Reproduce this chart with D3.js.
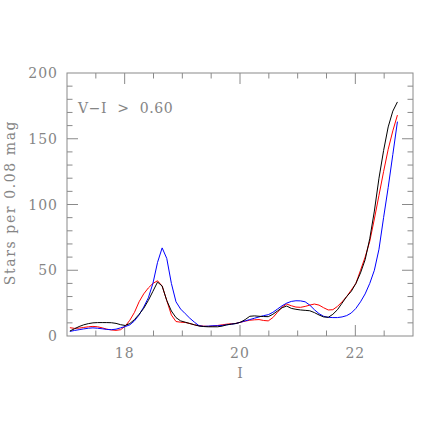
<!DOCTYPE html>
<html>
<head>
<meta charset="utf-8">
<script src="https://cdn.jsdelivr.net/npm/d3@7"></script>
<style>
  body { margin: 0; background: #fff; }
  text { font-family: "DejaVu Serif", serif; fill: #858585; }
</style>
</head>
<body>
<div class="chart"></div>
<script>
/* Luminosity function panel: star counts per 0.08 mag bin vs I */

// bin centres, 0.08 mag apart
var mag = d3.range(72).map(function (k) { return +(17.05 + 0.08 * k).toFixed(2); });

var blackCounts = [3.8, 5.5, 7.2, 8.5, 9.4, 10.0, 10.2, 10.2, 10.2, 10.1, 9.6, 8.6,
  8.0, 9.5, 12.5, 16.5, 21, 27, 34, 41, 38, 27, 19, 14,
  11.5, 10.5, 9.5, 8.5, 7.6, 7.2, 7.0, 7.0, 7.0, 7.5, 8.5, 9.0,
  9.5, 10.5, 12.5, 15, 15.3, 15, 14.8, 14.7, 16.5, 19, 21.5, 22.8,
  21, 20.3, 19.8, 19.5, 19.2, 17.8, 16, 14.5, 14.2, 16.5, 20, 25,
  30, 34, 40, 48, 58, 74, 95, 120, 141, 159, 171, 178];

var redCounts = [6.3, 5.8, 6.0, 6.5, 7.0, 7.3, 7.0, 6.2, 5.2, 4.6, 4.3, 4.8,
  7.5, 12, 18, 26, 32, 36.5, 40, 42, 38, 27, 16, 11,
  10.5, 10.3, 9.5, 8.5, 7.8, 7.5, 7.3, 7.5, 8, 8.5, 9, 9.3,
  9.6, 10.5, 11.3, 12, 12.3, 12.5, 11.8, 11.5, 14, 18, 22, 24.3,
  23, 22, 21.8, 22.5, 23.5, 24.3, 23.5, 21.5, 19.8, 20, 22.5, 26,
  30, 35, 40, 50, 60, 72, 89, 107, 125, 142, 156, 168];

var blueCounts = [3.5, 4.2, 4.8, 5.4, 5.9, 6.2, 5.9, 5.5, 5.0, 4.8, 5.2, 6.2,
  7.2, 8.5, 11.5, 16, 22, 29, 40, 56, 67, 59, 40, 26,
  20.5, 17, 13.5, 10.5, 7.8, 7.3, 7.5, 7.8, 7.8, 8, 8.5, 9,
  9.5, 10.5, 11.5, 12.5, 13.5, 14.5, 15.5, 16.2, 18, 20.5, 23, 25,
  26.3, 26.8, 26.7, 26, 23.5, 20, 17, 15, 14.2, 14, 14, 14.5,
  15.5, 17.5, 21, 26, 32, 40, 50, 66, 90, 113, 138, 163];

var xTicks = [18, 20, 22];
var yTicks = [0, 50, 100, 150, 200];
var panelLabel = "V\u2212I  >  0.60";

drawChart();

function drawChart() {

  var width = 436, height = 436;
  var margin = {top: 73, right: 23, bottom: 100, left: 67};
  var w = width - margin.left - margin.right,
      h = height - margin.top - margin.bottom;
  var axisColor = "#8a8a8a";

  var svg = d3.select(".chart")
      .append("svg")
      .attr("width", width)
      .attr("height", height)
      .append("g")
      .attr("transform", "translate(" + margin.left + "," + margin.top + ")");

  var x = d3.scaleLinear().domain([17, 23]).range([0, w]);
  var y = d3.scaleLinear().domain([0, 200]).range([h, 0]);

  // frame
  svg.append("rect")
    .attr("width", w).attr("height", h)
    .attr("fill", "none")
    .attr("stroke", axisColor);

  // ticks, drawn inward on all four sides
  var xMinor = d3.range(17.5, 23, 0.5);
  var yMinor = d3.range(10, 200, 10);

  function tickLen(isMajor) { return isMajor ? 11 : 5.5; }

  var ticks = svg.append("g").attr("stroke", axisColor);

  xMinor.forEach(function (v) {
    var major = Math.abs(v - Math.round(v)) < 1e-6 && Math.round(v) % 2 === 0;
    var L = tickLen(major);
    ticks.append("line").attr("x1", x(v)).attr("x2", x(v)).attr("y1", h).attr("y2", h - L);
    ticks.append("line").attr("x1", x(v)).attr("x2", x(v)).attr("y1", 0).attr("y2", L);
  });

  yMinor.forEach(function (v) {
    var L = tickLen(v % 50 === 0);
    ticks.append("line").attr("y1", y(v)).attr("y2", y(v)).attr("x1", 0).attr("x2", L);
    ticks.append("line").attr("y1", y(v)).attr("y2", y(v)).attr("x1", w).attr("x2", w - L);
  });

  // tick labels
  svg.append("g").selectAll("text")
    .data(xTicks)
    .enter()
    .append("text")
    .attr("x", function (d) { return x(d); })
    .attr("y", h + 22)
    .attr("text-anchor", "middle")
    .style("font-size", "14px")
    .style("letter-spacing", "1px")
    .text(function (d) { return d; });

  svg.append("g").selectAll("text")
    .data(yTicks)
    .enter()
    .append("text")
    .attr("x", -9)
    .attr("y", function (d) { return y(d) + 5; })
    .attr("text-anchor", "end")
    .style("font-size", "14px")
    .style("letter-spacing", "1px")
    .text(function (d) { return d; });

  // axis titles
  svg.append("text")
    .attr("x", x(20))
    .attr("y", h + 42)
    .attr("text-anchor", "middle")
    .style("font-size", "14px")
    .text("I");

  svg.append("text")
    .attr("transform", "translate(" + (-52) + "," + (h / 2 - 2) + ") rotate(-90)")
    .attr("text-anchor", "middle")
    .style("font-size", "14px")
    .style("letter-spacing", "1.6px")
    .text("Stars per 0.08 mag");

  svg.append("text")
    .attr("x", 11)
    .attr("y", 40)
    .style("font-size", "14px")
    .style("letter-spacing", "0.6px")
    .style("white-space", "pre")
    .text(panelLabel);

  // curves
  var line = d3.line()
    .x(function (d) { return x(d[0]); })
    .y(function (d) { return y(d[1]); });

  var series = [
    {color: "#ff0000", values: redCounts},
    {color: "#0000ff", values: blueCounts},
    {color: "#000000", values: blackCounts}
  ];

  series.forEach(function (s) {
    svg.append("path")
      .datum(d3.zip(mag, s.values))
      .attr("fill", "none")
      .attr("stroke", s.color)
      .attr("stroke-width", 1)
      .attr("d", line);
  });
}
</script>
</body>
</html>
